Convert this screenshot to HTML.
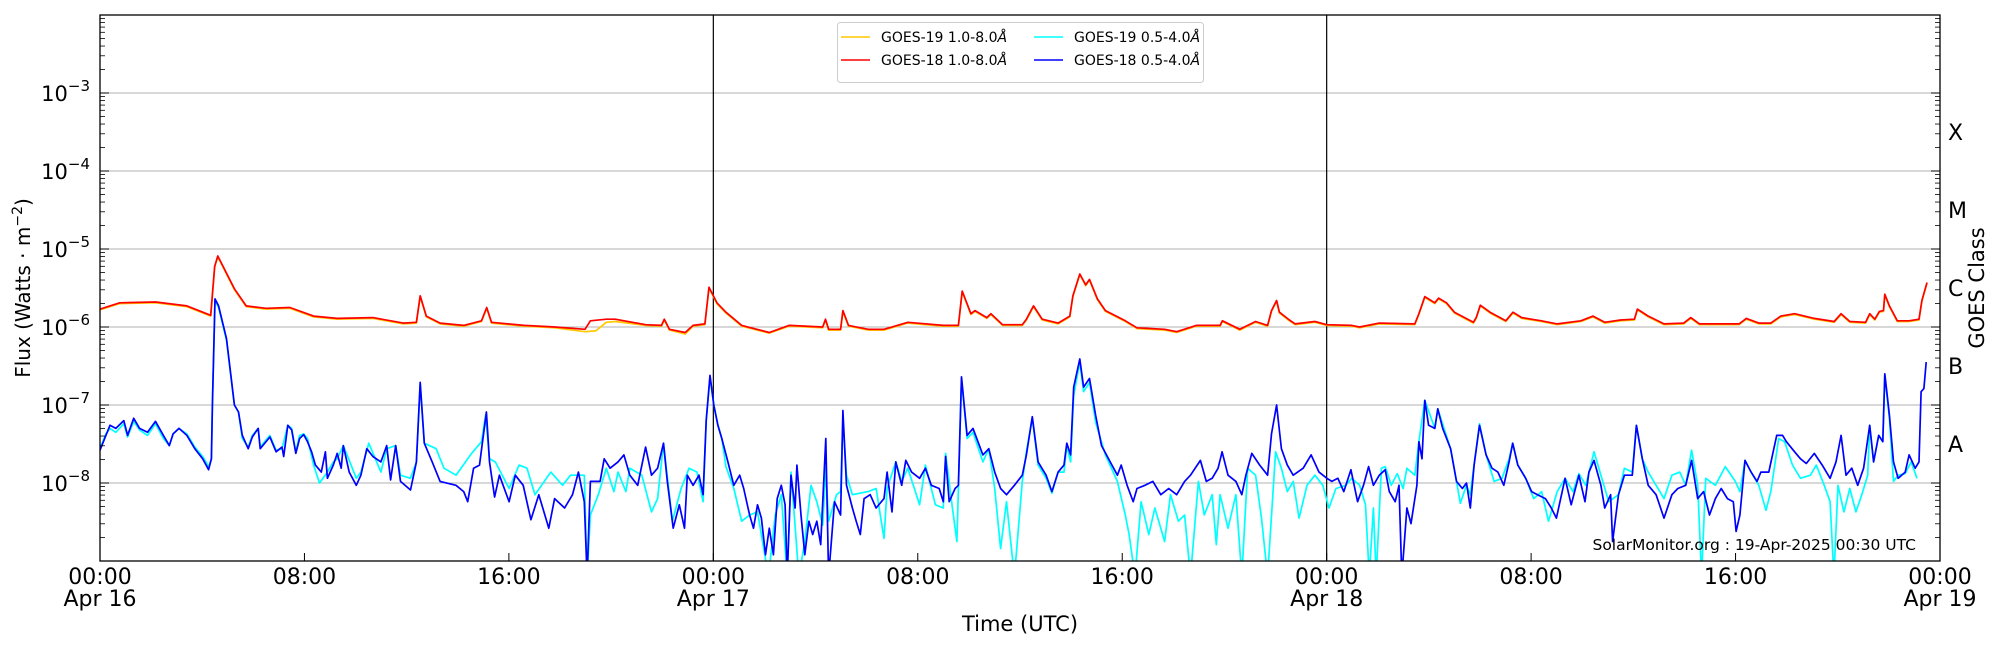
<!DOCTYPE html>
<html>
<head>
<meta charset="utf-8">
<style>
  html,body{margin:0;padding:0;background:#fff;}
  svg{display:block;font-family:"DejaVu Sans","Liberation Sans",sans-serif;}
</style>
</head>
<body>
<svg id="chart" width="2000" height="650" viewBox="0 0 2000 650" xmlns="http://www.w3.org/2000/svg">
  <defs><clipPath id="plotclip"><rect x="100" y="15" width="1840" height="546"/></clipPath></defs>
  <rect x="0" y="0" width="2000" height="650" fill="#fff"/>
  <g id="grid"></g>
  <g id="series" clip-path="url(#plotclip)"></g>
  <g id="axes"></g>
  <text transform="translate(30,288) rotate(-90)" text-anchor="middle" font-size="20">Flux (Watts · m<tspan dy="-8" font-size="14">−2</tspan><tspan dy="8">)</tspan></text>
  <text transform="translate(1984,288) rotate(-90)" text-anchor="middle" font-size="21">GOES Class</text>
  <text x="1020" y="631" text-anchor="middle" font-size="21">Time (UTC)</text>
  <text x="1916" y="550" text-anchor="end" font-size="15.5">SolarMonitor.org : 19-Apr-2025 00:30 UTC</text>
  <g>
    <rect x="837.5" y="22.5" width="366" height="60" rx="3" fill="#fff" stroke="#ccc" stroke-width="1"/>
    <g>
      <line x1="841" y1="37" x2="870" y2="37" stroke="#ffc800" stroke-width="1.5"/>
      <text x="881" y="42" font-size="14">GOES-19 1.0-8.0<tspan font-style="italic">Å</tspan></text>
    </g>
    <g>
      <line x1="841" y1="60" x2="870" y2="60" stroke="#ff0000" stroke-width="1.5"/>
      <text x="881" y="65" font-size="14">GOES-18 1.0-8.0<tspan font-style="italic">Å</tspan></text>
    </g>
    <g>
      <line x1="1034" y1="37" x2="1063" y2="37" stroke="#00ffff" stroke-width="1.5"/>
      <text x="1074" y="42" font-size="14">GOES-19 0.5-4.0<tspan font-style="italic">Å</tspan></text>
    </g>
    <g>
      <line x1="1034" y1="60" x2="1063" y2="60" stroke="#0000ff" stroke-width="1.5"/>
      <text x="1074" y="65" font-size="14">GOES-18 0.5-4.0<tspan font-style="italic">Å</tspan></text>
    </g>
  </g>
</svg>
<script>
// ---- data: [hours since Apr 16 00:00 UTC, log10(flux W/m^2)] ----
const xTickHours = [0, 8, 16, 24, 32, 40, 48, 56, 64, 72];
const xTickLabels = ["00:00","08:00","16:00","00:00","08:00","16:00","00:00","08:00","16:00","00:00"];
const xTickDates = ["Apr 16","","","Apr 17","","","Apr 18","","","Apr 19"];
const yDecades = [-9,-8,-7,-6,-5,-4,-3,-2];
const yLabelDecades = [-8,-7,-6,-5,-4,-3];
const classLabels = ["A","B","C","M","X"];
const classLevels = [-7.5,-6.5,-5.5,-4.5,-3.5];
const dayBoundaries = [24, 48];

const goes18Long = [[0,-5.77],[0.77,-5.69],[2.17,-5.68],[3.40,-5.73],[4.33,-5.85],[4.49,-5.22],[4.61,-5.09],[5.26,-5.51],[5.72,-5.73],[6.50,-5.76],[7.43,-5.75],[8.36,-5.86],[9.28,-5.89],[10.68,-5.88],[11.87,-5.95],[12.38,-5.94],[12.53,-5.60],[12.77,-5.86],[13.31,-5.95],[14.23,-5.98],[14.93,-5.92],[15.13,-5.75],[15.32,-5.94],[16.60,-5.98],[17.80,-6.00],[18.98,-6.03],[19.19,-5.92],[19.81,-5.90],[20.16,-5.90],[21.35,-5.97],[21.97,-5.98],[22.08,-5.90],[22.28,-6.03],[22.90,-6.07],[23.21,-5.98],[23.67,-5.96],[23.83,-5.49],[24.14,-5.69],[24.49,-5.81],[25.11,-5.98],[26.19,-6.07],[26.96,-5.98],[28.28,-6.0],[28.39,-5.90],[28.51,-6.03],[28.98,-6.03],[29.07,-5.79],[29.29,-5.98],[30.06,-6.03],[30.68,-6.03],[31.61,-5.94],[33.0,-5.98],[33.59,-5.98],[33.74,-5.54],[34.08,-5.83],[34.24,-5.79],[34.70,-5.88],[34.86,-5.83],[35.32,-5.97],[36.09,-5.97],[36.25,-5.90],[36.53,-5.73],[36.87,-5.90],[37.49,-5.95],[37.95,-5.86],[38.07,-5.60],[38.34,-5.32],[38.57,-5.46],[38.72,-5.39],[39.03,-5.64],[39.34,-5.79],[40.12,-5.92],[40.58,-6.01],[41.66,-6.03],[42.13,-6.06],[42.90,-5.98],[43.83,-5.98],[43.92,-5.92],[44.60,-6.03],[45.22,-5.93],[45.69,-5.98],[45.84,-5.79],[46.04,-5.66],[46.15,-5.81],[46.54,-5.91],[46.77,-5.96],[47.54,-5.93],[48.0,-5.97],[48.98,-5.98],[49.29,-6.0],[50.06,-5.95],[51.45,-5.96],[51.61,-5.83],[51.84,-5.61],[52.23,-5.69],[52.38,-5.63],[52.69,-5.69],[53.0,-5.81],[53.74,-5.94],[53.85,-5.88],[54.01,-5.72],[54.39,-5.81],[55.01,-5.92],[55.29,-5.81],[55.63,-5.88],[56.4,-5.92],[57.02,-5.96],[57.95,-5.92],[58.42,-5.86],[58.88,-5.94],[59.5,-5.91],[60.04,-5.90],[60.16,-5.77],[60.58,-5.86],[61.2,-5.96],[61.97,-5.95],[62.25,-5.88],[62.59,-5.96],[64.14,-5.96],[64.42,-5.89],[64.91,-5.95],[65.38,-5.95],[65.77,-5.86],[66.31,-5.83],[67.08,-5.89],[67.86,-5.93],[68.13,-5.83],[68.47,-5.93],[69.09,-5.94],[69.25,-5.83],[69.45,-5.90],[69.63,-5.80],[69.79,-5.79],[69.84,-5.58],[70.02,-5.73],[70.33,-5.92],[70.79,-5.92],[71.18,-5.90],[71.29,-5.66],[71.49,-5.43]];

const goes19Long = [[0,-5.78],[0.77,-5.70],[2.17,-5.69],[3.40,-5.74],[4.33,-5.86],[4.49,-5.23],[4.61,-5.10],[5.26,-5.52],[5.72,-5.74],[6.50,-5.77],[7.43,-5.76],[8.36,-5.87],[9.28,-5.90],[10.68,-5.89],[11.87,-5.96],[12.38,-5.95],[12.53,-5.61],[12.77,-5.87],[13.31,-5.96],[14.23,-5.99],[14.93,-5.93],[15.13,-5.76],[15.32,-5.95],[16.60,-5.99],[17.80,-6.01],[18.98,-6.06],[19.40,-6.05],[19.81,-5.94],[20.16,-5.93],[21.35,-5.98],[21.97,-5.99],[22.08,-5.91],[22.28,-6.04],[22.90,-6.09],[23.21,-5.99],[23.67,-5.97],[23.83,-5.50],[24.14,-5.70],[24.49,-5.82],[25.11,-5.99],[26.19,-6.08],[26.96,-5.99],[28.28,-6.01],[28.39,-5.91],[28.51,-6.04],[28.98,-6.04],[29.07,-5.80],[29.29,-5.99],[30.06,-6.04],[30.68,-6.04],[31.61,-5.95],[33.0,-5.99],[33.59,-5.99],[33.74,-5.55],[34.08,-5.84],[34.24,-5.80],[34.70,-5.89],[34.86,-5.84],[35.32,-5.98],[36.09,-5.98],[36.25,-5.91],[36.53,-5.74],[36.87,-5.91],[37.49,-5.96],[37.95,-5.87],[38.07,-5.61],[38.34,-5.33],[38.57,-5.47],[38.72,-5.40],[39.03,-5.65],[39.34,-5.80],[40.12,-5.93],[40.58,-6.02],[41.66,-6.04],[42.13,-6.07],[42.90,-5.99],[43.83,-5.99],[43.92,-5.93],[44.60,-6.04],[45.22,-5.94],[45.69,-5.99],[45.84,-5.80],[46.04,-5.67],[46.15,-5.82],[46.54,-5.92],[46.77,-5.97],[47.54,-5.94],[48.0,-5.98],[48.98,-5.99],[49.29,-6.01],[50.06,-5.96],[51.45,-5.97],[51.61,-5.84],[51.84,-5.62],[52.23,-5.70],[52.38,-5.64],[52.69,-5.70],[53.0,-5.82],[53.74,-5.95],[53.85,-5.89],[54.01,-5.73],[54.39,-5.82],[55.01,-5.93],[55.29,-5.82],[55.63,-5.89],[56.4,-5.93],[57.02,-5.97],[57.95,-5.93],[58.42,-5.87],[58.88,-5.95],[59.5,-5.92],[60.04,-5.91],[60.16,-5.78],[60.58,-5.87],[61.2,-5.97],[61.97,-5.96],[62.25,-5.89],[62.59,-5.97],[64.14,-5.97],[64.42,-5.90],[64.91,-5.96],[65.38,-5.96],[65.77,-5.87],[66.31,-5.84],[67.08,-5.90],[67.86,-5.94],[68.13,-5.84],[68.47,-5.94],[69.09,-5.95],[69.25,-5.84],[69.45,-5.91],[69.63,-5.81],[69.79,-5.80],[69.84,-5.59],[70.02,-5.74],[70.33,-5.93],[70.79,-5.93],[71.18,-5.91],[71.29,-5.67],[71.49,-5.44]];

const goes18Short = [[0,-7.58],[0.23,-7.39],[0.39,-7.26],[0.62,-7.30],[0.93,-7.20],[1.08,-7.39],[1.32,-7.17],[1.55,-7.30],[1.86,-7.35],[2.17,-7.21],[2.48,-7.39],[2.71,-7.52],[2.86,-7.37],[3.09,-7.30],[3.40,-7.39],[3.71,-7.56],[4.02,-7.69],[4.25,-7.83],[4.36,-7.69],[4.40,-7.0],[4.50,-5.64],[4.64,-5.73],[4.95,-6.15],[5.26,-7.0],[5.42,-7.09],[5.57,-7.39],[5.80,-7.56],[5.96,-7.41],[6.19,-7.30],[6.27,-7.56],[6.65,-7.41],[6.89,-7.60],[7.12,-7.54],[7.19,-7.66],[7.35,-7.26],[7.50,-7.32],[7.66,-7.62],[7.81,-7.43],[7.97,-7.38],[8.12,-7.47],[8.28,-7.60],[8.43,-7.77],[8.66,-7.86],[8.82,-7.60],[8.90,-7.94],[9.13,-7.77],[9.28,-7.62],[9.44,-7.81],[9.52,-7.52],[9.75,-7.86],[10.03,-8.03],[10.21,-7.90],[10.44,-7.56],[10.68,-7.66],[10.99,-7.73],[11.22,-7.52],[11.37,-7.96],[11.57,-7.52],[11.76,-7.98],[12.15,-8.09],[12.38,-7.73],[12.53,-6.71],[12.69,-7.49],[13.00,-7.73],[13.31,-7.98],[13.93,-8.03],[14.23,-8.11],[14.39,-8.24],[14.62,-7.81],[14.85,-7.77],[15.12,-7.09],[15.24,-7.73],[15.44,-8.18],[15.63,-7.90],[16.01,-8.24],[16.25,-7.90],[16.56,-8.03],[16.86,-8.47],[17.17,-8.15],[17.56,-8.58],[17.79,-8.20],[18.18,-8.32],[18.49,-8.15],[18.72,-7.86],[18.95,-8.24],[19.06,-9.2],[19.19,-7.98],[19.57,-7.98],[19.73,-7.69],[19.96,-7.81],[20.27,-7.73],[20.50,-7.64],[20.73,-7.90],[21.04,-8.03],[21.35,-7.54],[21.58,-7.90],[21.82,-7.81],[22.05,-7.49],[22.20,-7.98],[22.43,-8.58],[22.67,-8.28],[22.87,-8.58],[22.98,-7.90],[23.21,-8.03],[23.44,-7.90],[23.60,-8.15],[23.72,-7.2],[23.87,-6.62],[24.02,-7.00],[24.18,-7.26],[24.33,-7.43],[24.57,-7.73],[24.80,-8.03],[25.03,-7.90],[25.19,-8.07],[25.42,-8.41],[25.57,-8.58],[25.73,-8.28],[25.88,-8.45],[26.04,-8.92],[26.19,-8.58],[26.35,-8.92],[26.50,-8.20],[26.66,-8.03],[26.81,-8.28],[26.89,-9.2],[27.04,-7.90],[27.20,-8.32],[27.27,-7.77],[27.43,-8.41],[27.58,-8.92],[27.74,-8.49],[27.89,-8.66],[28.05,-8.49],[28.20,-8.79],[28.40,-7.43],[28.51,-9.2],[28.74,-8.24],[28.98,-8.41],[29.07,-7.07],[29.21,-8.03],[29.44,-8.32],[29.59,-8.49],[29.75,-8.66],[29.90,-8.20],[30.14,-8.15],[30.37,-8.32],[30.68,-8.20],[30.80,-7.86],[30.99,-8.37],[31.14,-7.73],[31.37,-8.03],[31.53,-7.71],[31.76,-7.86],[32.07,-7.94],[32.30,-7.81],[32.53,-8.03],[32.84,-8.07],[33.0,-8.24],[33.09,-7.66],[33.23,-8.24],[33.46,-8.07],[33.59,-8.03],[33.71,-6.64],[33.93,-7.39],[34.16,-7.30],[34.55,-7.64],[34.78,-7.56],[35.01,-7.86],[35.24,-8.07],[35.47,-8.15],[35.78,-8.03],[36.09,-7.90],[36.25,-7.64],[36.48,-7.15],[36.71,-7.73],[37.02,-7.90],[37.25,-8.11],[37.49,-7.86],[37.72,-7.77],[37.83,-7.49],[37.98,-7.64],[38.10,-6.77],[38.34,-6.41],[38.49,-6.77],[38.72,-6.66],[38.96,-7.13],[39.19,-7.52],[39.50,-7.71],[39.81,-7.90],[39.96,-7.77],[40.19,-8.03],[40.43,-8.24],[40.58,-8.07],[40.89,-8.03],[41.20,-7.98],[41.51,-8.15],[41.82,-8.07],[42.13,-8.15],[42.44,-7.98],[42.67,-7.90],[43.06,-7.71],[43.29,-7.98],[43.52,-7.94],[43.75,-7.81],[43.91,-7.60],[44.14,-7.90],[44.45,-7.98],[44.68,-8.15],[44.84,-7.90],[45.07,-7.62],[45.38,-7.77],[45.69,-7.90],[45.84,-7.37],[46.04,-7.00],[46.23,-7.56],[46.46,-7.77],[46.69,-7.90],[47.08,-7.81],[47.39,-7.64],[47.70,-7.86],[48.01,-7.94],[48.20,-7.98],[48.44,-7.94],[48.67,-8.11],[48.95,-7.83],[49.21,-8.24],[49.44,-8.03],[49.64,-7.79],[49.83,-8.03],[50.06,-7.90],[50.29,-7.83],[50.45,-8.11],[50.68,-8.24],[50.83,-8.03],[50.94,-9.2],[51.14,-8.32],[51.30,-8.52],[51.53,-8.03],[51.61,-7.47],[51.73,-7.69],[51.84,-6.94],[51.99,-7.26],[52.23,-7.30],[52.35,-7.05],[52.54,-7.30],[52.85,-7.56],[53.08,-7.98],[53.31,-8.07],[53.47,-8.00],[53.62,-8.32],[53.77,-7.77],[53.98,-7.26],[54.24,-7.64],[54.47,-7.81],[54.70,-7.86],[54.93,-8.03],[55.14,-7.73],[55.28,-7.49],[55.48,-7.77],[55.79,-7.94],[56.02,-8.11],[56.25,-8.15],[56.56,-8.20],[56.79,-8.32],[56.99,-8.45],[57.33,-7.94],[57.57,-8.28],[57.87,-7.90],[58.11,-8.24],[58.26,-7.86],[58.46,-7.71],[58.73,-8.03],[58.88,-8.32],[59.11,-8.15],[59.19,-8.75],[59.42,-8.15],[59.65,-7.90],[59.96,-7.90],[60.12,-7.26],[60.35,-7.69],[60.58,-8.03],[60.89,-8.15],[61.20,-8.45],[61.51,-8.15],[61.74,-8.07],[62.05,-8.03],[62.28,-7.71],[62.52,-8.20],[62.75,-8.11],[62.98,-8.41],[63.21,-8.20],[63.44,-8.07],[63.68,-8.20],[63.91,-8.24],[64.02,-8.62],[64.17,-8.41],[64.37,-7.71],[64.61,-7.86],[64.84,-7.98],[64.99,-7.86],[65.30,-7.86],[65.61,-7.39],[65.84,-7.39],[65.99,-7.47],[66.31,-7.60],[66.54,-7.69],[66.77,-7.75],[67.08,-7.62],[67.39,-7.77],[67.70,-7.94],[67.93,-7.73],[68.13,-7.39],[68.32,-7.90],[68.55,-7.81],[68.78,-8.03],[69.01,-7.81],[69.25,-7.26],[69.40,-7.73],[69.60,-7.39],[69.76,-7.47],[69.84,-6.60],[70.02,-7.13],[70.18,-7.73],[70.36,-7.94],[70.64,-7.86],[70.79,-7.64],[71.03,-7.81],[71.18,-7.73],[71.26,-6.83],[71.37,-6.79],[71.46,-6.45]];

const goes19Short = [[0,-7.56],[0.23,-7.37],[0.39,-7.30],[0.62,-7.35],[0.93,-7.24],[1.08,-7.41],[1.32,-7.21],[1.55,-7.32],[1.86,-7.39],[2.17,-7.24],[2.48,-7.43],[2.71,-7.52],[2.86,-7.37],[3.09,-7.30],[3.40,-7.37],[3.71,-7.54],[4.02,-7.66],[4.25,-7.79],[4.36,-7.69],[4.40,-7.0],[4.50,-5.66],[4.64,-5.75],[4.95,-6.17],[5.26,-7.0],[5.42,-7.09],[5.57,-7.43],[5.80,-7.54],[5.96,-7.39],[6.19,-7.30],[6.27,-7.54],[6.65,-7.39],[6.89,-7.58],[7.12,-7.56],[7.35,-7.26],[7.50,-7.30],[7.66,-7.60],[7.81,-7.39],[7.97,-7.37],[8.12,-7.43],[8.36,-7.77],[8.59,-8.00],[8.90,-7.86],[9.13,-7.73],[9.28,-7.69],[9.52,-7.52],[9.67,-7.64],[10.03,-7.94],[10.21,-7.86],[10.52,-7.49],[10.99,-7.86],[11.22,-7.56],[11.57,-7.52],[11.76,-7.90],[12.15,-7.94],[12.38,-7.73],[12.53,-6.73],[12.69,-7.49],[13.15,-7.56],[13.46,-7.81],[13.93,-7.90],[14.54,-7.62],[14.93,-7.47],[15.09,-7.13],[15.24,-7.69],[15.47,-7.73],[16.01,-8.07],[16.40,-7.77],[16.71,-7.81],[17.02,-8.15],[17.64,-7.86],[18.10,-8.03],[18.41,-7.90],[18.95,-7.90],[19.06,-9.2],[19.19,-8.41],[19.50,-8.15],[19.81,-7.81],[20.11,-8.11],[20.27,-7.86],[20.58,-8.11],[20.73,-7.81],[21.20,-7.90],[21.58,-8.37],[21.82,-8.20],[22.05,-7.49],[22.40,-8.49],[22.74,-8.07],[23.05,-7.81],[23.36,-7.86],[23.60,-8.24],[23.72,-7.2],[23.87,-6.64],[24.02,-7.00],[24.18,-7.26],[24.33,-7.43],[24.49,-7.79],[24.80,-8.07],[25.11,-8.49],[25.42,-8.41],[25.73,-8.37],[26.16,-9.2],[26.42,-8.41],[26.66,-8.15],[26.89,-9.2],[27.04,-7.86],[27.35,-9.2],[27.58,-8.75],[27.82,-8.03],[28.05,-8.24],[28.28,-8.54],[28.40,-7.81],[28.51,-8.49],[28.82,-8.15],[28.98,-8.11],[29.07,-7.20],[29.21,-7.90],[29.44,-8.15],[30.06,-8.11],[30.37,-8.07],[30.68,-8.71],[30.80,-8.07],[31.14,-7.73],[31.37,-7.98],[31.61,-7.81],[32.07,-8.28],[32.30,-7.77],[32.69,-8.28],[33.0,-8.32],[33.09,-7.62],[33.34,-8.28],[33.53,-8.75],[33.71,-6.66],[33.93,-7.43],[34.16,-7.35],[34.55,-7.73],[34.78,-7.56],[35.01,-8.07],[35.24,-8.84],[35.47,-8.24],[35.78,-9.2],[36.09,-7.98],[36.25,-7.60],[36.48,-7.17],[36.71,-7.77],[37.02,-7.94],[37.25,-8.13],[37.49,-7.86],[37.72,-7.86],[37.83,-7.52],[37.98,-7.73],[38.10,-6.88],[38.34,-6.45],[38.49,-6.83],[38.72,-6.71],[38.96,-7.22],[39.34,-7.64],[39.81,-7.98],[40.12,-8.41],[40.27,-8.66],[40.50,-9.2],[40.74,-8.24],[41.04,-8.66],[41.28,-8.32],[41.66,-8.75],[41.89,-8.15],[42.20,-8.49],[42.44,-8.41],[42.67,-9.2],[42.98,-7.98],[43.21,-8.41],[43.52,-8.15],[43.68,-8.79],[43.83,-8.15],[44.14,-8.58],[44.45,-8.15],[44.68,-9.2],[44.91,-7.81],[45.22,-7.90],[45.45,-8.45],[45.69,-9.2],[46.00,-7.60],[46.23,-7.81],[46.46,-8.11],[46.69,-7.98],[46.92,-8.45],[47.23,-8.03],[47.54,-7.90],[47.85,-8.03],[48.09,-8.32],[48.36,-8.07],[48.75,-8.03],[48.98,-7.94],[49.29,-8.03],[49.52,-8.28],[49.67,-9.2],[49.83,-8.32],[49.94,-9.2],[50.14,-7.81],[50.29,-7.79],[50.53,-8.03],[50.76,-7.88],[50.99,-8.07],[51.14,-7.81],[51.45,-7.90],[51.61,-7.47],[51.84,-6.94],[52.23,-7.30],[52.35,-7.05],[52.85,-7.56],[53.08,-7.98],[53.23,-8.26],[53.47,-8.03],[53.62,-8.15],[53.70,-7.94],[53.98,-7.24],[54.24,-7.64],[54.55,-7.98],[54.86,-7.94],[55.14,-7.69],[55.28,-7.49],[55.48,-7.77],[55.79,-7.94],[56.10,-8.20],[56.41,-8.11],[56.68,-8.49],[57.02,-8.11],[57.33,-7.94],[57.64,-8.11],[57.87,-7.88],[58.14,-8.03],[58.46,-7.60],[58.73,-7.90],[59.04,-8.24],[59.42,-8.15],[59.65,-7.81],[59.96,-7.86],[60.12,-7.26],[60.35,-7.69],[60.58,-7.86],[60.89,-8.03],[61.20,-8.20],[61.51,-7.90],[61.82,-7.86],[62.05,-8.03],[62.28,-7.58],[62.52,-8.03],[62.67,-9.2],[62.83,-7.94],[63.21,-8.03],[63.60,-7.79],[63.99,-7.98],[64.17,-8.11],[64.37,-7.71],[64.61,-7.86],[64.91,-8.03],[65.19,-8.35],[65.38,-8.11],[65.69,-7.43],[65.92,-7.47],[66.23,-7.77],[66.54,-7.94],[66.93,-7.90],[67.16,-7.77],[67.47,-8.03],[67.70,-8.24],[67.85,-9.2],[68.01,-8.03],[68.24,-8.37],[68.47,-8.07],[68.71,-8.37],[68.94,-8.15],[69.17,-7.90],[69.25,-7.26],[69.40,-7.73],[69.60,-7.39],[69.76,-7.47],[69.84,-6.62],[70.02,-7.17],[70.18,-7.98],[70.36,-7.90],[70.64,-7.88],[70.87,-7.73],[71.10,-7.94]];

// ---- axis functions ----
const X0 = 100, X1 = 1940, YT = 15, YB = 561, HMAX = 72, LTOP = -2, LBOT = -9;
function xScale(h){ return X0 + h / HMAX * (X1 - X0); }
function yScale(L){ return YT + (LTOP - L) / (LTOP - LBOT) * (YB - YT); }

const NS = "http://www.w3.org/2000/svg";
function mk(tag, attrs, parent){
  const e = document.createElementNS(NS, tag);
  for (const k in attrs) e.setAttribute(k, attrs[k]);
  parent.appendChild(e);
  return e;
}
const grid = document.getElementById('grid');
const axes = document.getElementById('axes');
const series = document.getElementById('series');

yLabelDecades.forEach(function(d){
  const l = mk('line', {x1:X0, x2:X1, y1:yScale(d), y2:yScale(d), stroke:'#b0b0b0', 'stroke-width':1}, grid);
  
  
});
dayBoundaries.forEach(function(h){
  const l = mk('line', {x1:xScale(h), x2:xScale(h), y1:YT, y2:YB, stroke:'#000', 'stroke-width':1.2}, grid);
  
  
});

function drawSeries(data, color, name, width){
  const d = data.map(function(p, i){ return (i ? 'L' : 'M') + xScale(p[0]).toFixed(1) + ',' + yScale(p[1]).toFixed(1); }).join('');
  const path = mk('path', {d:d, fill:'none', stroke:color, 'stroke-width':width, 'stroke-linejoin':'round'}, series);
  
  
}
drawSeries(goes19Long, '#ffc800', 'goes19-long-line', 1.7);
drawSeries(goes18Long, '#ff0000', 'goes18-long-line', 1.7);
drawSeries(goes19Short, '#00ffff', 'goes19-short-line', 1.7);
drawSeries(goes18Short, '#0000ff', 'goes18-short-line', 1.7);

const frame = mk('rect', {x:X0, y:YT, width:X1-X0, height:YB-YT, fill:'none', stroke:'#000', 'stroke-width':1.3}, axes);



yDecades.forEach(function(d){
  if (d > LTOP || d < LBOT) return;
  const y = yScale(d);
  mk('line', {x1:X0, x2:X0+9, y1:y, y2:y, stroke:'#000', 'stroke-width':1}, axes);
  mk('line', {x1:X1, x2:X1-9, y1:y, y2:y, stroke:'#000', 'stroke-width':1}, axes);
  if (d < LTOP) {
    for (let m = 2; m <= 9; m++) {
      const ym = yScale(d + Math.log10(m));
      mk('line', {x1:X0, x2:X0+5, y1:ym, y2:ym, stroke:'#000', 'stroke-width':0.8}, axes);
      mk('line', {x1:X1, x2:X1-5, y1:ym, y2:ym, stroke:'#000', 'stroke-width':0.8}, axes);
    }
  }
});
yLabelDecades.forEach(function(d){
  const t = mk('text', {x:90, y:yScale(d)+8, 'text-anchor':'end', 'font-size':21}, axes);
  
  
  t.textContent = '10';
  const s = mk('tspan', {dy:-10, 'font-size':15}, t);
  s.textContent = '−' + Math.abs(d);
});
classLabels.forEach(function(c, i){
  const t = mk('text', {x:1948, y:yScale(classLevels[i])+8, 'font-size':22}, axes);
  
  
  t.textContent = c;
});

xTickHours.forEach(function(h, i){
  const x = xScale(h);
  mk('line', {x1:x, x2:x, y1:YB, y2:YB-8, stroke:'#000', 'stroke-width':1}, axes);
  const t = mk('text', {x:x, y:584, 'text-anchor':'middle', 'font-size':22}, axes);
  
  
  t.textContent = xTickLabels[i];
  if (xTickDates[i]) {
    const t2 = mk('text', {x:x, y:606, 'text-anchor':'middle', 'font-size':22}, axes);
    
    
    t2.textContent = xTickDates[i];
  }
});
</script>
</body>
</html>
